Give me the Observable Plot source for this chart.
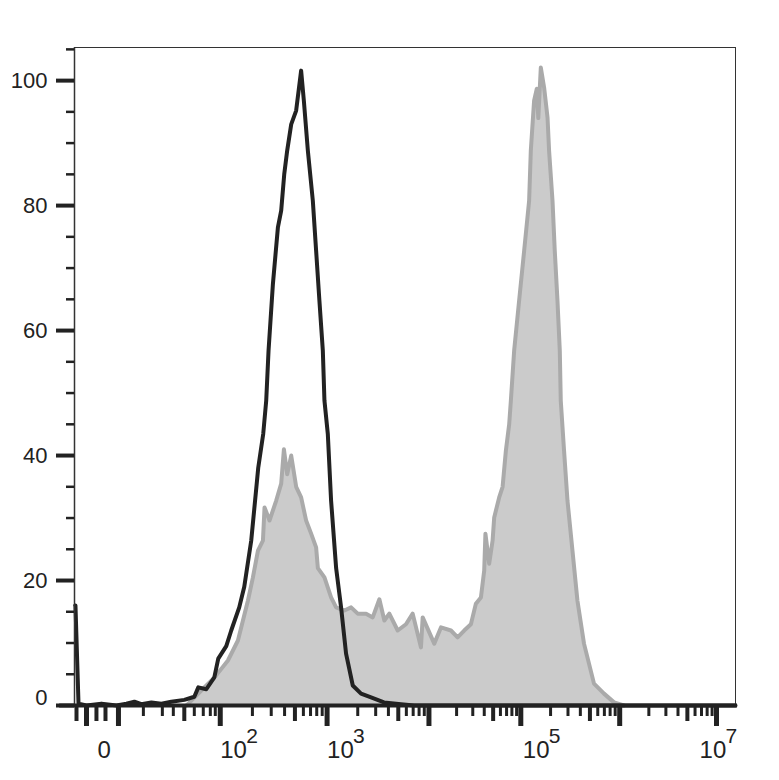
<!DOCTYPE html>
<html><head><meta charset="utf-8">
<script src="https://cdn.jsdelivr.net/npm/d3@7"></script>
<script src="https://cdn.jsdelivr.net/npm/@observablehq/plot@0.6"></script>
<style>body{margin:0;background:#fff}#chart svg{display:block}</style>
</head><body><div id="chart"></div>
<script>
// Display channel (0–1024, biexponential display) vs. % of max count
const blackCh = [1, 1.5, 6.2, 18.6, 41.8, 65, 80.4, 92.8, 103.6, 119.1, 134.6, 150, 170.1, 185.6, 191.8, 204.2, 216.6, 222.7, 235.1, 242.8, 255.2, 263, 273.8, 284.6, 292.4, 297, 300.6, 307.4, 315.1, 320.2, 324.9, 329.5, 335.7, 343.4, 351.1, 355.3, 361.5, 369.2, 374.3, 379.4, 384.7, 387.2, 392.4, 397.5, 405.3, 413, 420.7, 431.1, 443.9, 459.4, 479.5, 505.8, 525.9, 1024];
const blackCount = [16, 16, 0.3, 0, 0.3, 0, 0.3, 0.6, 0.2, 0.5, 0.3, 0.6, 0.9, 1.4, 2.9, 2.6, 4.5, 7.5, 9.5, 12, 15.7, 19, 26.4, 38, 43.5, 48.8, 56.8, 67.5, 76.5, 79.2, 85, 88.8, 93, 95.2, 101.6, 96.8, 88.8, 80.8, 72.8, 64.8, 56.8, 48.8, 43.5, 32.8, 22, 15.7, 8.3, 3.2, 1.9, 1.3, 0.5, 0.2, 0, 0];
const greyCh = [173.2, 176.3, 196.4, 217, 237.7, 253.2, 268.7, 276.4, 284.2, 291.9, 294.4, 302.1, 312.5, 320.2, 324.4, 329.5, 335.7, 343.4, 351.1, 358.8, 366.6, 374.3, 377, 387.2, 397.5, 405.3, 418.1, 428.5, 438.8, 451.7, 462, 472.3, 480, 487.7, 500.7, 513.5, 523.9, 536.7, 539.4, 557.3, 567.7, 583.2, 593.5, 603.7, 614.1, 621.8, 629.6, 634.7, 636.6, 642.4, 647.7, 650.2, 657.9, 663.2, 668.3, 673.4, 676, 681.1, 688.8, 696.6, 704.3, 706.9, 712, 716.2, 718.5, 722.4, 727.5, 732.8, 735.2, 740.5, 744, 748.2, 751.8, 753.3, 758.4, 763.7, 771.4, 779.1, 789.3, 804.8, 820.3, 835.8, 851.2];
const greyCount = [0, 0.3, 2.4, 4.5, 7.2, 10.4, 16.8, 20.5, 24.8, 26.4, 31.7, 29.6, 32.8, 35.5, 41, 37, 40, 35, 33.3, 29.6, 27.5, 25.3, 22, 20.5, 17.3, 15.7, 15.2, 15.7, 14.7, 14.7, 14.1, 17, 13.6, 14.7, 12, 13, 14.7, 9.3, 14.1, 9.9, 12.5, 12, 10.9, 12, 13, 16.3, 17.3, 21.6, 27.5, 22.7, 26.4, 30.1, 33.3, 35, 40.8, 45, 48.8, 56.8, 64.8, 72.8, 80.8, 88.8, 96.8, 98.7, 94, 102.1, 98.9, 94.1, 88.8, 80.8, 72.8, 64.8, 56.8, 48.8, 40.8, 32.8, 24.8, 16.8, 9.9, 3.5, 1.9, 0.5, 0];

// Axis ticks (display channels)
const xDomain = [0, 1024];
const xAxisStart = -23;
const xZeroCh = 18.6;
const xDecadeCh = [68.1, 225.8, 391.3, 549.1, 691.4, 844.6, 994.6]; // 10^1 … 10^7
const xLowMinorCh = [106.7, 136.1, 153.1, 185.6, 199.5, 210.4, 218.1];
const xLowMidCh = [170.1];
const xNearZeroCh = [3.1, 34, 48];
const xLabelCh = [35.6, 225.8, 391.3, 694.5, 968.3];
const xLabelBase = ["0", "10", "10", "10", "10"];
const xLabelExp = ["", "2", "3", "5", "7"];
const yDomain = [0, 105.3];
const yMajor = [0, 20, 40, 60, 80, 100];
const yMinor = [5, 10, 15, 25, 30, 35, 45, 50, 55, 65, 70, 75, 85, 90, 95, 105];

const black = blackCh.map((c, i) => ({ch: c, v: blackCount[i]}));
const grey = greyCh.map((c, i) => ({ch: c, v: greyCount[i]}));

// minor log ticks for decades 10^2..10^6
const xMinor = [], xMid = [];
for (let i = 1; i < xDecadeCh.length - 1; i++) {
  const a = xDecadeCh[i], b = xDecadeCh[i + 1];
  for (let m = 2; m <= 9; m++) {
    const p = a + Math.log10(m) * (b - a);
    (m === 5 ? xMid : xMinor).push(p);
  }
}
const xLong = [xZeroCh, ...xDecadeCh];
const labels = xLabelCh.map((c, i) => ({ch: c, base: xLabelBase[i], exp: xLabelExp[i]}));

const font = "Liberation Sans, Arial, sans-serif";
const empty = () => "";

const plot = Plot.plot({
  width: 779,
  height: 780,
  marginLeft: 74,
  marginRight: 44,
  marginTop: 47,
  marginBottom: 75,
  style: {fontFamily: font, background: "#fff"},
  x: {domain: xDomain},
  y: {domain: yDomain},
  marks: [
    Plot.areaY(grey, {x: "ch", y: "v", fill: "#cbcbcb"}),
    Plot.lineY(grey, {x: "ch", y: "v", stroke: "#aaaaaa", strokeWidth: 4}),
    Plot.lineY(black, {x: "ch", y: "v", stroke: "#222", strokeWidth: 4}),
    Plot.ruleY([yDomain[1]], {stroke: "#333", strokeWidth: 1}),
    Plot.ruleX([xDomain[1]], {stroke: "#333", strokeWidth: 1}),
    Plot.ruleX([xDomain[0]], {stroke: "#333", strokeWidth: 1.5}),
    // y axis
    Plot.axisY(yMajor, {tickSize: 18, strokeWidth: 4, stroke: "#222", tickFormat: empty, label: null}),
    Plot.axisY(yMinor, {tickSize: 8, strokeWidth: 2.5, stroke: "#222", tickFormat: empty, label: null}),
    Plot.axisY(yMajor.filter(d => d > 0), {tickSize: 0, tickPadding: 27, fontSize: 22, fill: "#222", label: null}),
    Plot.axisY([0], {tickSize: 0, tickPadding: 27, fontSize: 22, fill: "#222", dy: -8, label: null}),
    // x axis
    Plot.axisX(xLong, {tickSize: 21, strokeWidth: 5, stroke: "#222", tickFormat: empty, label: null}),
    Plot.axisX([...xMid, ...xLowMidCh, ...xNearZeroCh], {tickSize: 16, strokeWidth: 4, stroke: "#222", tickFormat: empty, label: null}),
    Plot.axisX([...xMinor, ...xLowMinorCh], {tickSize: 11, strokeWidth: 3, stroke: "#222", tickFormat: empty, label: null}),
    Plot.ruleY([0], {x1: xAxisStart, x2: xDomain[1] + 3, stroke: "#222", strokeWidth: 4}),
    Plot.text(labels, {x: "ch", text: "base", frameAnchor: "bottom", dy: 52, textAnchor: "start", fontSize: 24, fill: "#222"}),
    Plot.text(labels, {x: "ch", text: "exp", frameAnchor: "bottom", dy: 37, dx: 26, textAnchor: "start", fontSize: 21, fill: "#222"})
  ]
});
document.getElementById("chart").append(plot);
</script>
</body></html>
